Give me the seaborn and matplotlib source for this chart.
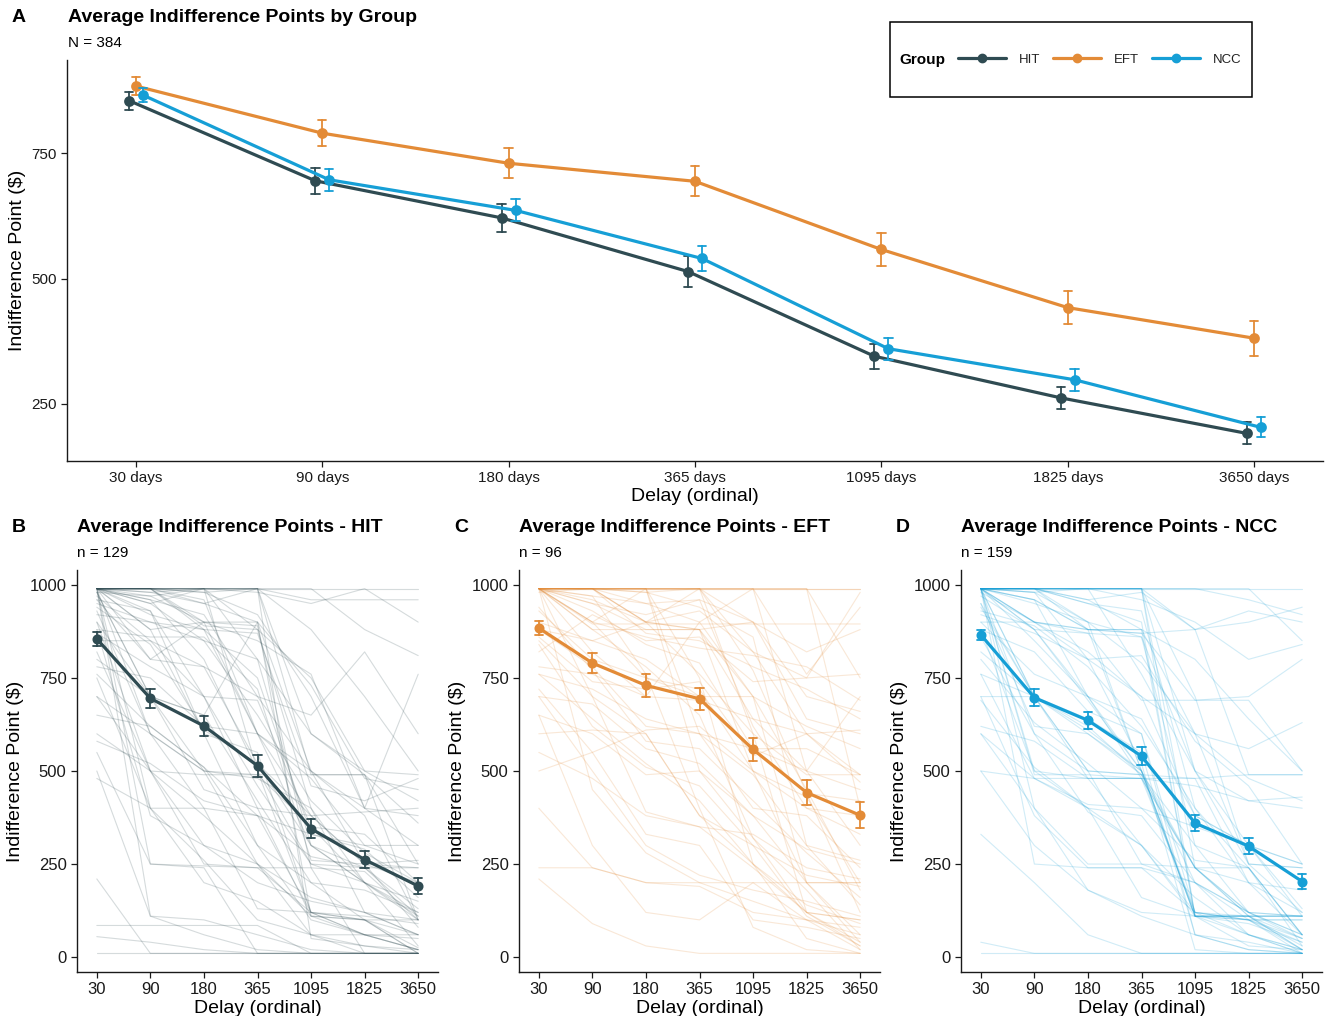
import numpy as np
import pandas as pd
import matplotlib
matplotlib.use("Agg")
import matplotlib.pyplot as plt
import seaborn as sns
from matplotlib.lines import Line2D
from matplotlib.patches import Rectangle

# Delays and groups
delays = ["30", "90", "180", "365", "1095", "1825", "3650"]
delay_labels_a = ["30 days", "90 days", "180 days", "365 days", "1095 days", "1825 days", "3650 days"]
groups = ["HIT", "EFT", "NCC"]
group_n = {"HIT": 129, "EFT": 96, "NCC": 159}
colors = {"HIT": "#2F4B52", "EFT": "#E38B37", "NCC": "#169FD6"}

# Group means and standard errors
hit_mean = [855, 695, 621, 514, 345, 262, 191]
hit_se = [18, 26, 28, 30, 25, 22, 22]
eft_mean = [884, 790, 730, 694, 558, 442, 381]
eft_se = [18, 26, 30, 30, 32, 33, 35]
ncc_mean = [866, 697, 636, 540, 360, 298, 203]
ncc_se = [14, 22, 22, 24, 22, 22, 20]

# A sample of individual trajectories (values at 30..3650 days), read roughly from panels B-D
hit_subjects = [
    [990, 990, 990, 990, 990, 990, 990], [990, 990, 990, 990, 490, 490, 250],
    [990, 880, 900, 900, 110, 100, 10], [10, 10, 10, 10, 10, 10, 10],
    [990, 980, 950, 990, 960, 960, 960], [980, 700, 500, 250, 60, 10, 10],
    [950, 900, 880, 600, 300, 200, 120], [990, 250, 245, 240, 120, 60, 20],
    [900, 500, 490, 490, 490, 490, 100], [850, 850, 700, 400, 110, 100, 25],
    [990, 990, 890, 880, 400, 120, 60], [210, 10, 10, 10, 10, 10, 10],
    [85, 85, 85, 85, 10, 10, 10], [750, 400, 200, 150, 60, 30, 10],
    [990, 950, 990, 800, 600, 500, 490], [600, 500, 380, 250, 110, 60, 20],
    [990, 990, 990, 990, 990, 880, 810], [960, 800, 780, 700, 500, 250, 240],
    [990, 960, 800, 500, 250, 200, 100], [500, 110, 60, 20, 10, 10, 10],
    [990, 990, 980, 920, 700, 400, 380], [930, 600, 400, 130, 120, 100, 60],
    [990, 400, 400, 380, 330, 300, 250], [870, 780, 700, 690, 350, 330, 200],
    [990, 990, 990, 500, 120, 100, 100], [980, 970, 900, 850, 760, 400, 760],
    [550, 250, 240, 10, 10, 10, 10], [990, 920, 880, 870, 460, 420, 480],
    [800, 700, 650, 420, 200, 180, 120], [990, 880, 600, 300, 100, 60, 50],
    [940, 840, 610, 520, 380, 390, 400], [55, 40, 20, 10, 10, 10, 10],
    [990, 970, 990, 980, 950, 990, 900], [700, 600, 500, 490, 350, 200, 150],
    [990, 990, 900, 890, 240, 10, 10], [880, 380, 300, 250, 160, 120, 100],
    [990, 960, 920, 700, 650, 820, 600], [760, 620, 510, 380, 270, 240, 130],
    [980, 700, 650, 900, 730, 480, 450], [990, 990, 980, 990, 50, 30, 20],
    [990, 990, 950, 900, 500, 400, 300], [970, 850, 780, 520, 300, 240, 110],
    [990, 600, 500, 480, 400, 200, 30], [920, 900, 850, 650, 420, 280, 200],
    [990, 980, 990, 990, 880, 700, 500], [820, 500, 300, 200, 150, 120, 60],
    [990, 930, 700, 460, 250, 240, 240], [650, 620, 510, 300, 200, 100, 10],
    [990, 990, 880, 750, 330, 290, 160], [900, 700, 450, 400, 380, 250, 200],
    [990, 800, 900, 600, 500, 380, 100], [480, 400, 260, 100, 60, 60, 60],
    [990, 990, 990, 990, 600, 490, 360], [960, 930, 600, 550, 120, 60, 20],
    [780, 750, 620, 600, 480, 300, 300], [990, 110, 100, 60, 20, 10, 10],
    [990, 950, 850, 800, 300, 200, 110], [880, 860, 860, 720, 260, 250, 260],
    [990, 990, 960, 600, 380, 250, 80], [700, 500, 250, 240, 240, 230, 100],
    [990, 990, 990, 880, 750, 500, 420], [580, 520, 420, 380, 120, 110, 90],
]
eft_subjects = [
    [990, 990, 990, 990, 990, 990, 990], [990, 990, 990, 990, 990, 990, 990],
    [990, 895, 895, 895, 895, 895, 895], [990, 950, 880, 880, 500, 200, 60],
    [980, 990, 900, 990, 820, 600, 490], [210, 90, 30, 10, 10, 10, 10],
    [400, 240, 200, 200, 200, 200, 200], [990, 900, 990, 750, 250, 50, 10],
    [900, 850, 800, 700, 560, 440, 420], [780, 760, 700, 690, 640, 600, 610],
    [990, 990, 980, 990, 990, 760, 940], [720, 550, 330, 300, 100, 80, 50],
    [500, 550, 610, 620, 500, 430, 200], [990, 970, 950, 900, 700, 450, 180],
    [650, 300, 120, 100, 200, 100, 80], [990, 820, 700, 900, 990, 500, 700],
    [990, 990, 990, 500, 320, 120, 100], [880, 780, 620, 600, 560, 560, 490],
    [990, 990, 990, 990, 990, 990, 750], [240, 240, 200, 190, 120, 100, 20],
    [990, 900, 860, 830, 810, 780, 690], [760, 640, 520, 420, 250, 120, 40],
    [990, 880, 780, 650, 320, 180, 20], [990, 990, 900, 880, 700, 200, 40],
    [600, 610, 600, 380, 300, 220, 190], [990, 970, 760, 400, 80, 20, 10],
    [850, 700, 390, 350, 330, 240, 210], [990, 990, 990, 990, 900, 640, 600],
    [940, 770, 580, 560, 420, 280, 160], [990, 950, 920, 960, 620, 400, 380],
    [700, 500, 300, 220, 180, 150, 110], [990, 990, 990, 990, 770, 440, 120],
    [820, 920, 850, 860, 740, 750, 760], [990, 450, 280, 200, 150, 100, 60],
    [990, 990, 950, 960, 900, 820, 880], [990, 880, 880, 880, 640, 500, 300],
    [880, 850, 900, 760, 600, 490, 490], [990, 990, 990, 600, 400, 380, 240],
    [760, 720, 640, 600, 490, 300, 140], [990, 990, 980, 940, 860, 300, 260],
    [650, 600, 490, 500, 380, 200, 200], [990, 900, 750, 700, 700, 620, 560],
    [990, 990, 990, 990, 990, 990, 400], [840, 620, 510, 460, 300, 110, 30],
    [990, 960, 900, 880, 900, 700, 660], [550, 480, 380, 350, 240, 120, 100],
    [990, 930, 840, 790, 560, 500, 450], [990, 990, 900, 930, 820, 750, 980],
    [700, 680, 560, 520, 380, 290, 250], [990, 990, 990, 990, 600, 120, 30],
    [930, 800, 750, 720, 500, 400, 330], [990, 700, 600, 380, 250, 140, 90],
    [990, 990, 870, 850, 780, 720, 640], [860, 740, 720, 740, 540, 600, 470],
]
ncc_subjects = [
    [990, 990, 990, 990, 990, 990, 990], [990, 990, 990, 990, 110, 110, 110],
    [990, 980, 900, 500, 110, 110, 30], [10, 10, 10, 10, 10, 10, 10],
    [990, 960, 880, 880, 110, 100, 20], [990, 490, 490, 480, 240, 240, 60],
    [980, 900, 870, 690, 690, 690, 500], [990, 250, 240, 240, 120, 110, 110],
    [940, 700, 640, 550, 60, 20, 10], [990, 990, 990, 990, 990, 960, 920],
    [600, 480, 480, 480, 240, 200, 120], [40, 10, 10, 10, 10, 10, 10],
    [990, 900, 800, 520, 20, 10, 10], [860, 600, 390, 300, 120, 100, 50],
    [990, 990, 960, 980, 880, 490, 490], [700, 380, 240, 240, 200, 120, 60],
    [990, 950, 900, 860, 500, 250, 240], [900, 760, 700, 640, 380, 300, 130],
    [330, 200, 60, 10, 10, 10, 10], [990, 990, 990, 960, 900, 800, 840],
    [970, 880, 690, 500, 120, 60, 20], [990, 700, 500, 490, 240, 120, 110],
    [800, 630, 520, 400, 350, 300, 250], [990, 990, 990, 760, 500, 420, 400],
    [500, 480, 410, 400, 260, 240, 60], [990, 980, 800, 700, 600, 560, 630],
    [950, 620, 600, 490, 110, 110, 110], [990, 900, 880, 870, 880, 930, 900],
    [690, 510, 400, 160, 110, 30, 20], [990, 990, 950, 930, 400, 200, 180],
    [880, 820, 660, 600, 60, 40, 10], [990, 500, 480, 300, 110, 90, 40],
    [620, 580, 480, 480, 460, 420, 430], [990, 990, 990, 990, 240, 110, 20],
    [920, 870, 800, 810, 580, 460, 250], [990, 960, 700, 480, 120, 100, 100],
    [990, 400, 180, 120, 110, 100, 40], [760, 700, 610, 500, 200, 60, 20],
    [990, 990, 880, 870, 690, 700, 800], [990, 880, 870, 860, 300, 240, 60],
    [990, 990, 950, 900, 110, 110, 110], [990, 900, 880, 880, 600, 250, 120],
    [950, 700, 600, 500, 240, 110, 50], [990, 990, 990, 990, 880, 900, 940],
    [700, 700, 500, 490, 480, 490, 490], [990, 880, 700, 500, 110, 60, 10],
    [880, 500, 400, 380, 200, 120, 60], [990, 990, 990, 990, 500, 300, 110],
    [930, 890, 780, 620, 400, 240, 30], [990, 600, 500, 250, 200, 100, 100],
    [600, 400, 250, 250, 240, 120, 110], [990, 990, 960, 880, 800, 640, 500],
    [820, 700, 620, 490, 300, 120, 50], [990, 980, 990, 990, 990, 990, 850],
    [990, 850, 700, 600, 120, 100, 10], [760, 480, 400, 300, 160, 60, 10],
    [990, 990, 900, 790, 600, 480, 420], [500, 300, 180, 110, 60, 20, 10],
    [990, 960, 880, 500, 110, 110, 20], [990, 990, 990, 990, 700, 250, 240],
    [900, 900, 820, 700, 380, 300, 250], [990, 700, 480, 480, 480, 200, 60],
]

means = {"HIT": hit_mean, "EFT": eft_mean, "NCC": ncc_mean}
ses = {"HIT": hit_se, "EFT": eft_se, "NCC": ncc_se}
subjects = {"HIT": hit_subjects, "EFT": eft_subjects, "NCC": ncc_subjects}

# summary table: mean-se, mean, mean+se per cell so the errorbar is min..max
rows = []
for g in groups:
    for d, m, s in zip(delays, means[g], ses[g]):
        for v in (m - s, m, m + s):
            rows.append({"group": g, "delay": d, "value": v})
summary = pd.DataFrame(rows)

ind_rows = []
for g in groups:
    for i, traj in enumerate(subjects[g]):
        for j, v in enumerate(traj):
            ind_rows.append({"group": g, "subject": i, "pos": j, "value": v})
indiv = pd.DataFrame(ind_rows)

sns.set_theme(style="ticks")
plt.rcParams["font.family"] = ["Liberation Sans", "DejaVu Sans"]
plt.rcParams["text.color"] = "black"
plt.rcParams["axes.labelcolor"] = "black"
plt.rcParams["axes.edgecolor"] = "#1a1a1a"

W, H = 1331, 1016
fig = plt.figure(figsize=(W / 100, H / 100), dpi=100)


def fx(px):
    return px / W


def fy(py):
    return 1 - py / H


def minmax(x):
    return (x.min(), x.max())


def style_axes(ax, size):
    sns.despine(ax=ax)
    ax.spines["left"].set_linewidth(1.0)
    ax.spines["bottom"].set_linewidth(1.0)
    ax.tick_params(axis="both", length=4, width=0.9, labelsize=size,
                   color="#1a1a1a", labelcolor="#1a1a1a")
    ax.grid(False)


# ---- Panel A
axA = fig.add_axes([fx(67), fy(461), fx(1256), 401 / H])
sns.pointplot(data=summary, x="delay", y="value", hue="group", order=delays,
              hue_order=groups, palette=colors, estimator="mean", errorbar=minmax,
              dodge=0.075, capsize=0.045, linewidth=2.3, markersize=6,
              err_kws={"linewidth": 1.3}, legend=False, ax=axA)
axA.set_xlim(-0.37, 6.37)
axA.set_ylim(136, 936)
axA.set_yticks([250, 500, 750])
axA.set_xticks(range(len(delays)))
axA.set_xticklabels(delay_labels_a)
axA.set_xlabel("Delay (ordinal)", fontsize=14, labelpad=2)
axA.set_ylabel("Indifference Point ($)", fontsize=14)
style_axes(axA, 11)

fig.text(fx(12), fy(18), "A", fontsize=14, fontweight="bold", va="center")
fig.text(fx(68), fy(18), "Average Indifference Points by Group", fontsize=14,
         fontweight="bold", va="center")
fig.text(fx(68), fy(43), f"N = {sum(group_n.values())}", fontsize=11, va="center")

# legend with title on the left
fig.patches.append(Rectangle((fx(890), fy(97)), fx(362), 75 / H, transform=fig.transFigure,
                             facecolor="white", edgecolor="black", linewidth=1.1))
fig.text(fx(899), fy(60), "Group", fontsize=11, fontweight="bold", va="center")
handles = [Line2D([], [], color=colors[g], lw=2.3, marker="o", markersize=6) for g in groups]
fig.legend(handles, groups, loc="center left", bbox_to_anchor=(fx(958), fy(60)),
           ncol=3, frameon=False, fontsize=9.5, handlelength=3.6, handletextpad=1.0,
           columnspacing=1.0, borderpad=0, borderaxespad=0, labelcolor="#222222")

# ---- Panels B, C, D
panel_left = {"HIT": 77, "EFT": 519, "NCC": 961}
letters = {"HIT": "B", "EFT": "C", "NCC": "D"}
for g in groups:
    left = panel_left[g]
    ax = fig.add_axes([fx(left), fy(972), fx(361), 402 / H])
    sub = indiv[indiv["group"] == g]
    sns.lineplot(data=sub, x="pos", y="value", units="subject", estimator=None,
                 color=colors[g], alpha=0.2, linewidth=0.8, ax=ax)
    sns.pointplot(data=summary[summary["group"] == g], x="delay", y="value", order=delays,
                  color=colors[g], estimator="mean", errorbar=minmax, capsize=0.16,
                  linewidth=2.3, markersize=5.5, err_kws={"linewidth": 1.3}, ax=ax)
    ax.set_xlim(-0.37, 6.37)
    ax.set_ylim(-40, 1040)
    ax.set_yticks([0, 250, 500, 750, 1000])
    ax.set_xticks(range(len(delays)))
    ax.set_xticklabels(delays)
    ax.set_xlabel("Delay (ordinal)", fontsize=14, labelpad=2)
    ax.set_ylabel("Indifference Point ($)", fontsize=14)
    style_axes(ax, 12)
    fig.text(fx(left - 65), fy(527), letters[g], fontsize=14, fontweight="bold", va="center")
    fig.text(fx(left), fy(528), f"Average Indifference Points - {g}", fontsize=14,
             fontweight="bold", va="center")
    fig.text(fx(left), fy(553), f"n = {group_n[g]}", fontsize=11, va="center")

fig.savefig("out.png", dpi=100)
